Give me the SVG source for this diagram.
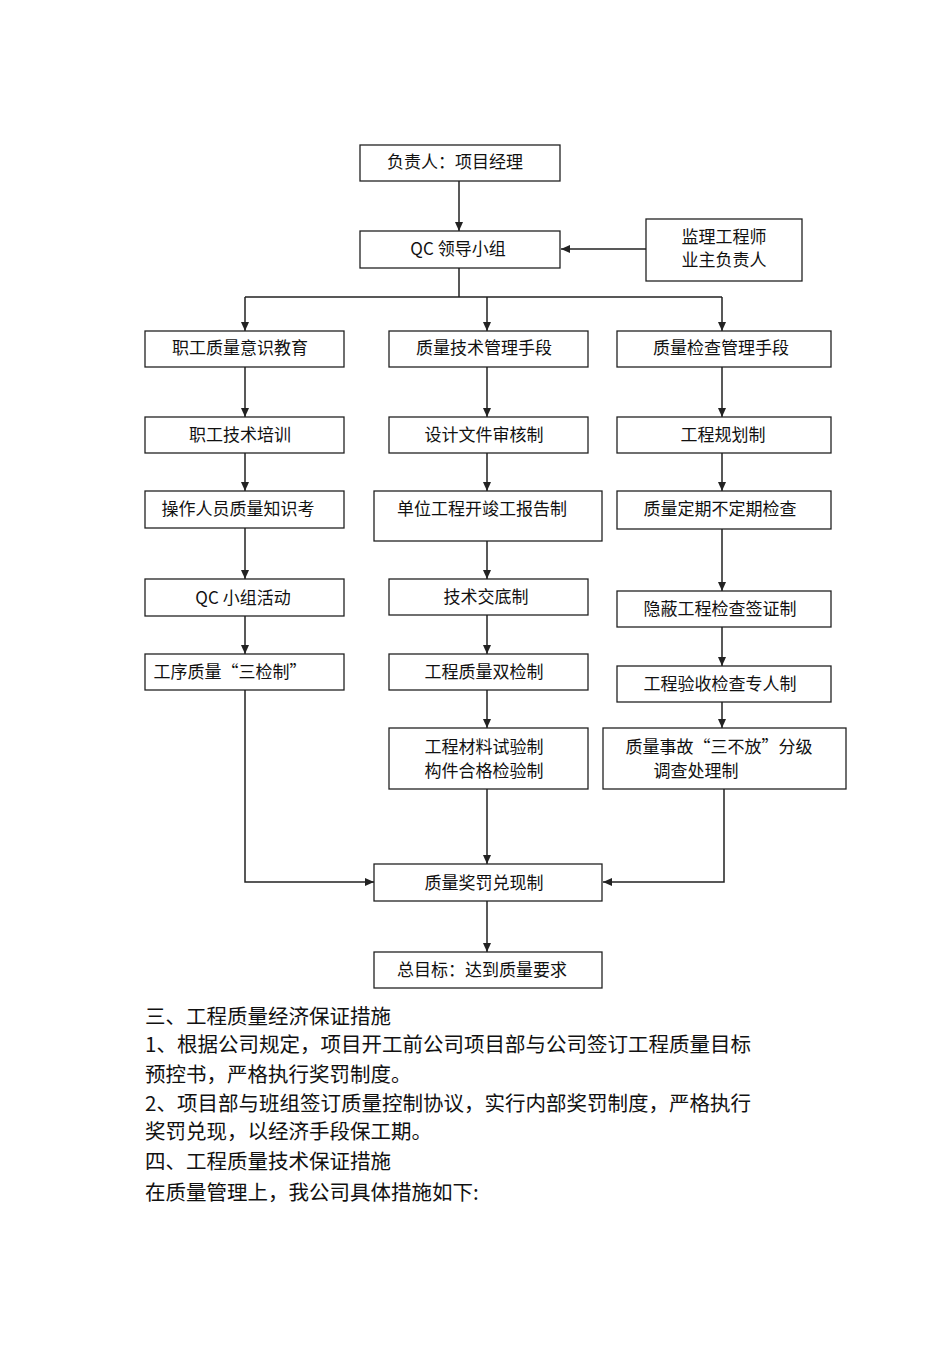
<svg xmlns="http://www.w3.org/2000/svg" width="950" height="1345" viewBox="0 0 950 1345">
<style>
.b{fill:#fff;stroke:#222;stroke-width:1.3}
.t{font-family:"Noto Sans CJK SC","Liberation Sans",sans-serif;font-size:17px;fill:#111;text-anchor:middle}
.p{font-family:"Noto Sans CJK SC","Liberation Sans",sans-serif;font-size:20.5px;fill:#111}
.c{fill:none;stroke:#222;stroke-width:1.5;marker-end:url(#a)}
.l{fill:none;stroke:#222;stroke-width:1.5}
</style>
<defs><marker id="a" markerWidth="10" markerHeight="10" refX="9" refY="5" orient="auto" markerUnits="userSpaceOnUse"><path d="M0,1 L9,5 L0,9 Z" fill="#222"/></marker></defs>
<rect width="950" height="1345" fill="#fff"/>
<g id="connectors">
<path class="c" d="M459,181 V231"/>
<path class="c" d="M646,249 H561"/>
<path class="l" d="M459,268 V297 M245,297 H722"/>
<path class="c" d="M245,297 V331"/><path class="c" d="M487,297 V331"/><path class="c" d="M722,297 V331"/>
<path class="c" d="M245,367 V417"/><path class="c" d="M245,453 V491"/><path class="c" d="M245,528 V579"/><path class="c" d="M245,616 V654"/>
<path class="c" d="M487,367 V417"/><path class="c" d="M487,453 V491"/><path class="c" d="M487,541 V579"/><path class="c" d="M487,615 V654"/><path class="c" d="M487,690 V728"/>
<path class="c" d="M722,367 V417"/><path class="c" d="M722,453 V491"/><path class="c" d="M722,529 V591"/><path class="c" d="M722,627 V666"/><path class="c" d="M722,702 V728"/>
<path class="c" d="M245,690 V882 H374"/>
<path class="c" d="M724,789 V882 H603"/>
<path class="c" d="M487,789 V864"/>
<path class="c" d="M487,901 V952"/>
</g>
<g id="n1"><rect class="b" x="360" y="145" width="200" height="36"/><text class="t" x="455" y="168">负责人：项目经理</text></g>
<g id="n2"><rect class="b" x="360" y="231" width="200" height="37"/><text class="t" x="458" y="255">QC 领导小组</text></g>
<g id="n3"><rect class="b" x="646" y="219" width="156" height="62"/><text class="t" x="724" y="243">监理工程师</text><text class="t" x="724" y="266">业主负责人</text></g>
<g id="c1a"><rect class="b" x="145" y="331" width="199" height="36"/><text class="t" x="240" y="354">职工质量意识教育</text></g>
<g id="c1b"><rect class="b" x="145" y="417" width="199" height="36"/><text class="t" x="240" y="441">职工技术培训</text></g>
<g id="c1c"><rect class="b" x="145" y="491" width="199" height="37"/><text class="t" x="238" y="515">操作人员质量知识考</text></g>
<g id="c1d"><rect class="b" x="145" y="579" width="199" height="37"/><text class="t" x="243" y="604">QC 小组活动</text></g>
<g id="c1e"><rect class="b" x="145" y="654" width="199" height="36"/><text class="t" x="230" y="678">工序质量“三检制”</text></g>
<g id="c2a"><rect class="b" x="389" y="331" width="199" height="36"/><text class="t" x="484" y="354">质量技术管理手段</text></g>
<g id="c2b"><rect class="b" x="389" y="417" width="199" height="36"/><text class="t" x="484" y="441">设计文件审核制</text></g>
<g id="c2c"><rect class="b" x="374" y="491" width="228" height="50"/><text class="t" x="482" y="515">单位工程开竣工报告制</text></g>
<g id="c2d"><rect class="b" x="389" y="579" width="199" height="36"/><text class="t" x="486" y="603">技术交底制</text></g>
<g id="c2e"><rect class="b" x="389" y="654" width="199" height="36"/><text class="t" x="484" y="678">工程质量双检制</text></g>
<g id="c2f"><rect class="b" x="389" y="728" width="199" height="61"/><text class="t" x="484" y="753">工程材料试验制</text><text class="t" x="484" y="777">构件合格检验制</text></g>
<g id="c3a"><rect class="b" x="617" y="331" width="214" height="36"/><text class="t" x="721" y="354">质量检查管理手段</text></g>
<g id="c3b"><rect class="b" x="617" y="417" width="214" height="36"/><text class="t" x="723" y="441">工程规划制</text></g>
<g id="c3c"><rect class="b" x="617" y="491" width="214" height="38"/><text class="t" x="720" y="515">质量定期不定期检查</text></g>
<g id="c3d"><rect class="b" x="617" y="591" width="214" height="36"/><text class="t" x="720" y="615">隐蔽工程检查签证制</text></g>
<g id="c3e"><rect class="b" x="617" y="666" width="214" height="36"/><text class="t" x="720" y="690">工程验收检查专人制</text></g>
<g id="c3f"><rect class="b" x="603" y="728" width="243" height="61"/><text class="t" x="719" y="753">质量事故“三不放”分级</text><text class="t" x="696" y="777">调查处理制</text></g>
<g id="n4"><rect class="b" x="374" y="864" width="228" height="37"/><text class="t" x="484" y="889">质量奖罚兑现制</text></g>
<g id="n5"><rect class="b" x="374" y="952" width="228" height="36"/><text class="t" x="482" y="976">总目标：达到质量要求</text></g>
<g id="text">
<text class="p" x="145" y="1024">三、工程质量经济保证措施</text>
<text class="p" x="145" y="1052">1、根据公司规定，项目开工前公司项目部与公司签订工程质量目标</text>
<text class="p" x="145" y="1082">预控书，严格执行奖罚制度。</text>
<text class="p" x="145" y="1111">2、项目部与班组签订质量控制协议，实行内部奖罚制度，严格执行</text>
<text class="p" x="145" y="1139">奖罚兑现，以经济手段保工期。</text>
<text class="p" x="145" y="1169">四、工程质量技术保证措施</text>
<text class="p" x="145" y="1200">在质量管理上，我公司具体措施如下:</text>
</g>
</svg>
